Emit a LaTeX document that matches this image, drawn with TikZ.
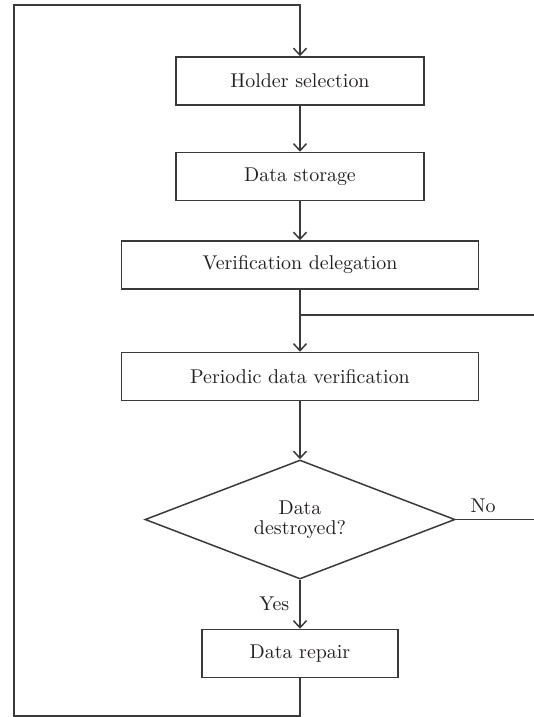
\documentclass[tikz,border=0pt]{standalone}
\usepackage{xcolor}
\usepackage{tikz}
\usetikzlibrary{arrows.meta,positioning,shapes.geometric}
\definecolor{ink}{HTML}{231F20}
\definecolor{wire}{HTML}{3A3A3A}
\tikzset{
  stepbox/.style={
    rectangle, draw=wire, line width=0.75bp, text=ink,
    minimum width=#1, minimum height=24bp,
    align=center, inner sep=2pt
  },
  stepbox/.default=124bp,
  decision/.style={
    diamond, draw=wire, line width=0.75bp, text=ink,
    minimum width=155bp, minimum height=59.5bp, aspect=2.6,
    align=center, inner sep=0pt
  },
  flowline/.style={draw=wire, line width=0.75bp},
  flowarrow/.style={flowline, -{Straight Barb[length=3.5bp,width=6.5bp]}},
  edgelabel/.style={text=ink, inner sep=3pt},
}

\begin{document}
\begin{tikzpicture}[x=0.5bp, y=-0.5bp]
  \useasboundingbox (0,0) rectangle (534,717);
  % main column
  \node[stepbox] (hold) at (300,81) {Holder selection};
  \node[stepbox, below=23bp of hold] (store) {Data storage};
  \node[stepbox=178.5bp, below=19.5bp of store] (deleg) {Verification delegation};
  \node[stepbox=178.5bp, below=31bp of deleg] (verify) {Periodic data verification};
  \node[decision, below=29bp of verify] (check) {Data\\[-2pt]destroyed?};
  \node[stepbox=98bp, below=24.5bp of check] (repair) {Data repair};
  \draw[flowarrow] (hold) -- (store);
  \draw[flowarrow] (store) -- (deleg);
  \draw[flowarrow] (deleg) -- (verify);
  \draw[flowarrow] (verify) -- (check);
  \draw[flowarrow] (check) -- node[edgelabel, left, xshift=-2bp] {Yes} (repair);

  % branches to the right edge
  \coordinate (rim) at (534,0);
  \coordinate (branch) at (300,315);
  \draw[flowline] (branch) -- (branch -| rim);
  \draw[flowline] (check.east) -- node[edgelabel, above, pos=0.35] {No} (check.east -| rim);

  % loop back to the top
  \coordinate (loop-bl) at (14,716);
  \coordinate (loop-tl) at (14,5);
  \draw[flowarrow] (repair) -- (repair |- loop-bl) -- (loop-bl) -- (loop-tl) -| (hold);
\end{tikzpicture}
\end{document}
